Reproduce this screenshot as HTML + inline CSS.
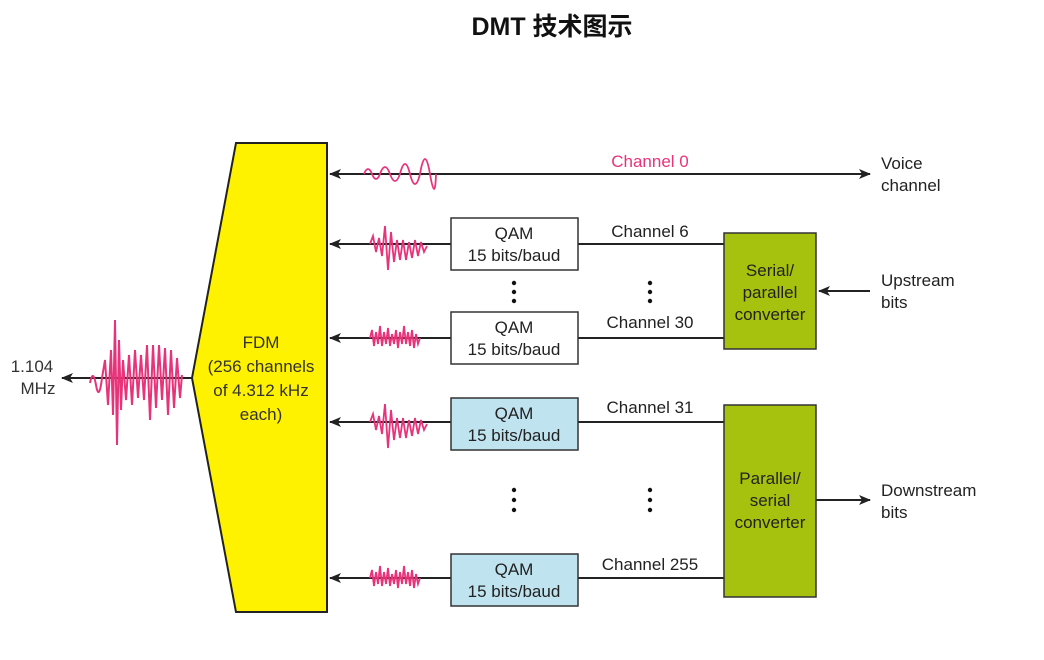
<!DOCTYPE html>
<html><head><meta charset="utf-8"><style>
body{margin:0;background:#fff;}
svg text{font-family:"Liberation Sans","Noto Sans CJK SC",sans-serif;}
</style></head><body>
<svg width="1044" height="655" viewBox="0 0 1044 655" xmlns="http://www.w3.org/2000/svg">
<defs>
<marker id="a" markerWidth="12" markerHeight="10" refX="11" refY="5" orient="auto" markerUnits="userSpaceOnUse"><path d="M0,0 L12,5 L0,10 L3,5 Z" fill="#222"/></marker>
</defs>
<text x="552" y="35" font-size="25" font-weight="bold" text-anchor="middle" fill="#111">DMT 技术图示</text>
<polygon points="236,143 327,143 327,612 236,612 192,378" fill="#fff200" stroke="#222" stroke-width="2"/>
<g font-size="17" fill="#333" text-anchor="middle">
<text x="261" y="348">FDM</text>
<text x="261" y="372">(256 channels</text>
<text x="261" y="396">of 4.312 kHz</text>
<text x="261" y="420">each)</text>
<text x="32" y="372">1.104</text>
<text x="38" y="394">MHz</text>
</g>
<line x1="192" y1="378" x2="62" y2="378" stroke="#222" stroke-width="2" marker-end="url(#a)"/>
<path d="M90,383 Q93,368 96,385 T102,378 L105,360 L108,405 L111,350 L113,415 L115,320 L117,445 L119,340 L121,410 L123,360 L126,400 L129,355 L132,405 L135,350 L138,398 L141,355 L144,400 L147,345 L150,420 L153,345 L156,408 L159,345 L162,400 L165,348 L168,415 L171,350 L174,408 L177,358 L180,398 L182,375" fill="none" stroke="#e8337a" stroke-width="2"/>
<g stroke="#222" stroke-width="2" fill="none">
<line x1="451" y1="244" x2="330" y2="244" marker-end="url(#a)"/>
<line x1="451" y1="338" x2="330" y2="338" marker-end="url(#a)"/>
<line x1="451" y1="422" x2="330" y2="422" marker-end="url(#a)"/>
<line x1="451" y1="578" x2="330" y2="578" marker-end="url(#a)"/>
<line x1="578" y1="244" x2="724" y2="244"/>
<line x1="578" y1="338" x2="724" y2="338"/>
<line x1="578" y1="422" x2="724" y2="422"/>
<line x1="578" y1="578" x2="724" y2="578"/>
<line x1="870" y1="291" x2="819" y2="291" marker-end="url(#a)"/>
<line x1="816" y1="500" x2="870" y2="500" marker-end="url(#a)"/>
<line x1="600" y1="174" x2="330" y2="174" marker-end="url(#a)"/>
</g>
<line x1="340" y1="174" x2="870" y2="174" stroke="#222" stroke-width="2" marker-end="url(#a)"/>
<g fill="none" stroke="#e8337a" stroke-width="1.8">
<path d="M364,174 q4,-10 8,0 t8,0 q5,-14 10,0 t10,0 q5,-20 10,0 t10,0 q5,-30 10,0 t6,0"/>
<path d="M370,244 l3,-8 l3,16 l3,-14 l3,18 l3,-30 l3,44 l3,-38 l3,30 l3,-22 l3,20 l3,-20 l3,20 l3,-18 l3,16 l3,-18 l3,16 l3,-14 l3,10 l3,-6"/>
<path d="M370,422 l3,-8 l3,16 l3,-14 l3,18 l3,-30 l3,44 l3,-38 l3,30 l3,-22 l3,20 l3,-20 l3,20 l3,-18 l3,16 l3,-18 l3,16 l3,-14 l3,10 l3,-6"/>
<path d="M370,338 l2,-8 l2,16 l2,-14 l2,12 l2,-18 l2,20 l2,-14 l2,12 l2,-16 l2,18 l2,-12 l2,10 l2,-14 l2,18 l2,-16 l2,12 l2,-18 l2,18 l2,-12 l2,14 l2,-16 l2,18 l2,-14 l2,10 l2,-6"/>
<path d="M370,578 l2,-8 l2,16 l2,-14 l2,12 l2,-18 l2,20 l2,-14 l2,12 l2,-16 l2,18 l2,-12 l2,10 l2,-14 l2,18 l2,-16 l2,12 l2,-18 l2,18 l2,-12 l2,14 l2,-16 l2,18 l2,-14 l2,10 l2,-6"/>
</g>
<g stroke="#333" stroke-width="1.5">
<rect x="451" y="218" width="127" height="52" fill="#fff"/>
<rect x="451" y="312" width="127" height="52" fill="#fff"/>
<rect x="451" y="398" width="127" height="52" fill="#bfe3ef"/>
<rect x="451" y="554" width="127" height="52" fill="#bfe3ef"/>
<rect x="724" y="233" width="92" height="116" fill="#a6c20e"/>
<rect x="724" y="405" width="92" height="192" fill="#a6c20e"/>
</g>
<g font-size="17" fill="#222" text-anchor="middle">
<text x="514" y="239">QAM</text><text x="514" y="261">15 bits/baud</text>
<text x="514" y="333">QAM</text><text x="514" y="355">15 bits/baud</text>
<text x="514" y="419">QAM</text><text x="514" y="441">15 bits/baud</text>
<text x="514" y="575">QAM</text><text x="514" y="597">15 bits/baud</text>
<text x="770" y="276">Serial/</text><text x="770" y="298">parallel</text><text x="770" y="320">converter</text>
<text x="770" y="484">Parallel/</text><text x="770" y="506">serial</text><text x="770" y="528">converter</text>
<text x="650" y="237">Channel 6</text>
<text x="650" y="328">Channel 30</text>
<text x="650" y="413">Channel 31</text>
<text x="650" y="570">Channel 255</text>
<text x="650" y="167" fill="#e8337a">Channel 0</text>
</g>
<g font-size="17" fill="#222">
<text x="881" y="169">Voice</text><text x="881" y="191">channel</text>
<text x="881" y="286">Upstream</text><text x="881" y="308">bits</text>
<text x="881" y="496">Downstream</text><text x="881" y="518">bits</text>
</g>
<g fill="#111">
<circle cx="514" cy="283" r="2.2"/><circle cx="514" cy="292" r="2.2"/><circle cx="514" cy="301" r="2.2"/>
<circle cx="650" cy="283" r="2.2"/><circle cx="650" cy="292" r="2.2"/><circle cx="650" cy="301" r="2.2"/>
<circle cx="514" cy="490" r="2.2"/><circle cx="514" cy="500" r="2.2"/><circle cx="514" cy="510" r="2.2"/>
<circle cx="650" cy="490" r="2.2"/><circle cx="650" cy="500" r="2.2"/><circle cx="650" cy="510" r="2.2"/>
</g>
</svg>
</body></html>
